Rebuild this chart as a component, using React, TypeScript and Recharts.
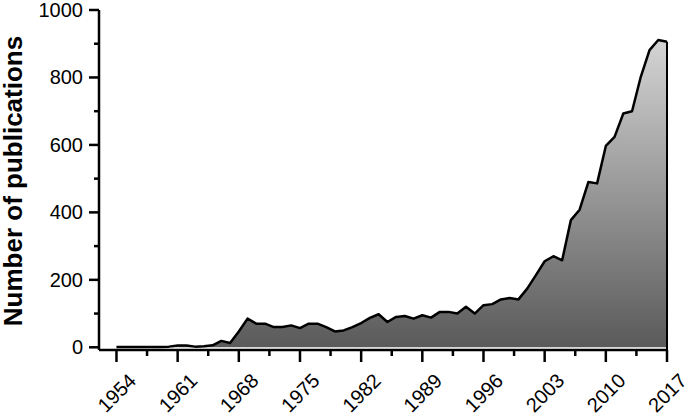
import React from 'react';
import { AreaChart, Area, XAxis, YAxis, ReferenceLine, Label } from 'recharts';

const years = [
  1954, 1955, 1956, 1957, 1958, 1959, 1960, 1961, 1962, 1963,
  1964, 1965, 1966, 1967, 1968, 1969, 1970, 1971, 1972, 1973,
  1974, 1975, 1976, 1977, 1978, 1979, 1980, 1981, 1982, 1983,
  1984, 1985, 1986, 1987, 1988, 1989, 1990, 1991, 1992, 1993,
  1994, 1995, 1996, 1997, 1998, 1999, 2000, 2001, 2002, 2003,
  2004, 2005, 2006, 2007, 2008, 2009, 2010, 2011, 2012, 2013,
  2014, 2015, 2016, 2017,
];

const publications = [
  1, 1, 1, 1, 1, 1, 2, 5, 5, 2,
  3, 6, 19, 13, 47, 85, 70, 70, 60, 60,
  65, 57, 70, 70, 60, 47, 50, 60, 72, 87,
  98, 75, 90, 93, 85, 95, 88, 105, 105, 100,
  120, 100, 125, 128, 142, 146, 142, 174, 214, 255,
  270, 258, 377, 408, 490, 486, 597, 624, 693, 700,
  802, 881, 911, 906,
];

const xTicks = [
  1954, 1957.5, 1961, 1964.5, 1968, 1971.5, 1975, 1978.5, 1982, 1985.5,
  1989, 1992.5, 1996, 1999.5, 2003, 2006.5, 2010, 2013.5, 2017,
];
const yTicks = [0, 100, 200, 300, 400, 500, 600, 700, 800, 900, 1000];

const data = years.map((year, i) => ({ year, value: publications[i] }));
const lastYear = years[years.length - 1];
const lastValue = publications[publications.length - 1];

const FONT = '"Liberation Sans", Arial, Helvetica, sans-serif';

const XTick = ({ x, y, payload }: any) => {
  const major = (payload.value - 1954) % 7 === 0;
  const tx = x + 21;
  const ty = y + 32;
  return (
    <g>
      <line x1={x} x2={x} y1={y} y2={y + (major ? 12 : 6)} stroke="#000" strokeWidth={2.5} />
      {major && (
        <text
          x={tx}
          y={ty}
          transform={`rotate(-45 ${tx} ${ty})`}
          textAnchor="end"
          fontSize={20}
          fontFamily={FONT}
          fill="#000"
        >
          {payload.value}
        </text>
      )}
    </g>
  );
};

const YTick = ({ x, y, payload }: any) => {
  const major = payload.value % 200 === 0;
  return (
    <g>
      <line x1={x} x2={x - (major ? 10 : 5)} y1={y} y2={y} stroke="#000" strokeWidth={2.5} />
      {major && (
        <text x={x - 16} y={y + 7} textAnchor="end" fontSize={20} fontFamily={FONT} fill="#000">
          {payload.value}
        </text>
      )}
    </g>
  );
};

export default function App() {
  return (
    <div style={{ position: 'absolute', left: 0, top: 0, background: '#fff' }}>
      <AreaChart width={685} height={416} data={data} margin={{ top: 10, right: 18, left: 0, bottom: 0 }}>
        <defs>
          <linearGradient id="pubFill" x1="0" y1="0" x2="0" y2="1">
            <stop offset="0%" stopColor="#d4d4d4" />
            <stop offset="100%" stopColor="#5a5a5a" />
          </linearGradient>
        </defs>
        <XAxis
          dataKey="year"
          type="number"
          domain={[1952, 2017]}
          ticks={xTicks}
          interval={0}
          height={66}
          tickSize={0}
          tickMargin={0}
          tickLine={false}
          axisLine={{ stroke: '#000', strokeWidth: 2.5 }}
          tick={<XTick />}
        />
        <YAxis
          type="number"
          domain={[-8, 1000]}
          ticks={yTicks}
          interval={0}
          width={99}
          tickSize={0}
          tickMargin={0}
          tickLine={false}
          axisLine={{ stroke: '#000', strokeWidth: 2.5 }}
          tick={<YTick />}
        >
          <Label
            content={() => (
              <text
                x={22}
                y={181}
                transform="rotate(-90 22 181)"
                textAnchor="middle"
                fontSize={26}
                fontWeight="bold"
                fontFamily={FONT}
                fill="#000"
              >
                Number of publications
              </text>
            )}
          />
        </YAxis>
        <Area
          type="linear"
          dataKey="value"
          stroke="#000"
          strokeWidth={2.5}
          strokeLinejoin="round"
          fill="url(#pubFill)"
          fillOpacity={1}
          isAnimationActive={false}
        />
        <ReferenceLine
          segment={[{ x: lastYear, y: -8 }, { x: lastYear, y: lastValue }]}
          stroke="#000"
          strokeWidth={2}
        />
      </AreaChart>
    </div>
  );
}
